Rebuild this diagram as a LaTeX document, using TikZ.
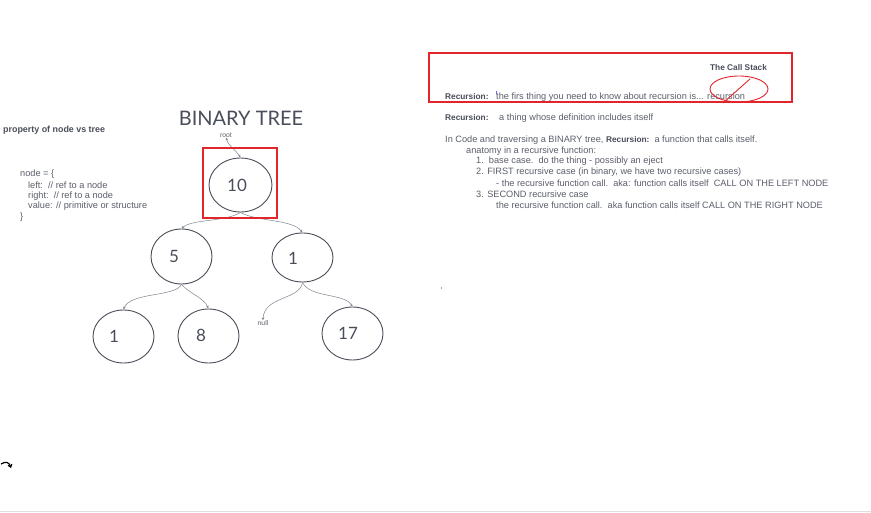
\documentclass[tikz,border=0pt]{standalone}
\usepackage{fontspec}
\setmainfont{Liberation Sans}
\newfontfamily\latofont{Lato}
\usetikzlibrary{arrows.meta,shapes.geometric}
\definecolor{txt}{HTML}{5B5F6B}
\definecolor{dark}{HTML}{4A4E5A}
\definecolor{edge}{HTML}{80848E}
\definecolor{redbox}{HTML}{E0262B}
\begin{document}
\begin{tikzpicture}[x=1pt,y=-1pt,
  treenode/.style={draw=dark,line width=0.9pt,ellipse,inner sep=0pt},
  numlabel/.style={text=dark,font=\latofont\fontsize{17}{17}\selectfont},
  small/.style={text=txt,font=\fontsize{9.2}{10}\selectfont,anchor=west,inner sep=0pt},
  smallb/.style={text=dark,font=\fontsize{8.3}{9}\selectfont\bfseries,anchor=west,inner sep=0pt},
  treeedge/.style={draw=edge,line width=0.5pt,-{Stealth[length=3pt,width=2.5pt]}},
  redline/.style={draw=redbox,line width=1.5pt}
]
\useasboundingbox (0,0) rectangle (871,513);
\fill[white] (0,0) rectangle (871,513);
\draw[gray!25,line width=0.8pt] (0,511.5) -- (871,511.5);

% bottom-left curved arrow
\draw[black,line width=1.2pt,-{Straight Barb[length=2.5pt,width=4pt]}] (1,464) .. controls (6,461) and (9,462) .. (11,468);

% left text
\node[smallb,font=\fontsize{8.9}{9}\selectfont\bfseries] (prop) at (3,130) {property of node vs tree};
\node[small] (c1) at (20,174) {node = \{};
\node[small] (c2) at (28,185) {left:\ \ // ref to a node};
\node[small] (c3) at (28,196) {right:\ \ // ref to a node};
\node[small] (c4) at (28,206) {value: // primitive or structure};
\node[small] (c5) at (20,217) {\}};

% title
\node[text=dark,font=\latofont\fontsize{20}{20}\selectfont,inner sep=0pt] (title) at (241,118) {BINARY TREE};

% tree
\node[text=txt,font=\fontsize{6.8}{7}\selectfont,inner sep=0pt] (root) at (226,135) {root};
\node[treenode,minimum width=63pt,minimum height=54pt] (n10) at (240.5,185) {};
\node[numlabel] (t10) at (237,185) {10};
\node[treenode,minimum width=61pt,minimum height=55pt] (n5) at (181.5,256.5) {};
\node[numlabel] (t5) at (174,256) {5};
\node[treenode,minimum width=61pt,minimum height=49pt] (n1r) at (302.5,257.5) {};
\node[numlabel] (t1r) at (293,258) {1};
\node[treenode,minimum width=61pt,minimum height=53pt] (n1l) at (123.5,336.5) {};
\node[numlabel] (t1l) at (114,336) {1};
\node[treenode,minimum width=61pt,minimum height=54pt] (n8) at (208.5,336) {};
\node[numlabel] (t8) at (201,335) {8};
\node[treenode,minimum width=61pt,minimum height=53pt] (n17) at (352.5,333.5) {};
\node[numlabel] (t17) at (348,333) {17};
\node[text=txt,font=\fontsize{6.8}{7}\selectfont,inner sep=0pt] (null) at (263,323) {null};

\draw[treeedge,{Stealth[length=3pt,width=2.5pt]}-{Stealth[length=3pt,width=2.5pt]}] (n10.north) .. controls (236,150) and (229,147) .. (root.south);
\draw[treeedge] (n10.south) .. controls (225,222) and (192,219) .. (n5.north);
\draw[treeedge] (n10.south) .. controls (258,222) and (292,219) .. (n1r.north);
\draw[treeedge] (n5.south) .. controls (176,297) and (130,292) .. (n1l.north);
\draw[treeedge] (n5.south) .. controls (190,294) and (203,297) .. (n8.north);
\draw[treeedge] (n1r.south) .. controls (300,300) and (264,296) .. (null.north);
\draw[treeedge] (n1r.south) .. controls (310,298) and (344,293) .. (n17.north);

% red frames
\node[inner sep=0pt,minimum width=74pt,minimum height=70pt] (frame10) at (240,183) {};
\draw[redline] (frame10.south west) rectangle (frame10.north east);
\node[inner sep=0pt,minimum width=363pt,minimum height=49pt] (frametop) at (610.5,77.5) {};
\draw[redline] (frametop.south west) rectangle (frametop.north east);

% right side
\node[smallb,anchor=center] (stack) at (738.5,68) {The Call Stack};
\node[smallb] (r1a) at (445,97) {Recursion:};
\node[small] (r1b) at (496,97) {the firs thing you need to know about recursion is... recursion};
\draw[redbox,line width=0.9pt] (739,89) ellipse [x radius=29pt, y radius=13pt];
\draw[redbox,line width=0.9pt] (750,79) -- (723,103);
\draw[blue!60,line width=0.6pt] (496,91) -- (496,94);
\fill[blue!40] (440.5,287.5) rectangle (441.8,289);

\node[smallb] (r2a) at (445,118) {Recursion:};
\node[small] (r2b) at (499,118) {a thing whose definition includes itself};

\node[small] (l1) at (445,140) {In Code and traversing a BINARY tree, \textbf{\color{dark}\fontsize{8.3}{9}\selectfont Recursion:}\ \ a function that calls itself.};
\node[small] (l2) at (466,151) {anatomy in a recursive function:};
\node[small] (l3) at (476,161) {1.\ \ base case.\ \ do the thing - possibly an eject};
\node[small] (l4) at (476,172) {2. FIRST recursive case (in binary, we have two recursive cases)};
\node[small] (l5) at (496,183) {- the recursive function call.\ \ aka: function calls itself\ \ CALL ON THE LEFT NODE};
\node[small] (l6) at (476,194) {3. SECOND recursive case};
\node[small] (l7) at (496,205) {the recursive function call.\ \ aka function calls itself CALL ON THE RIGHT NODE};
\end{tikzpicture}
\end{document}
